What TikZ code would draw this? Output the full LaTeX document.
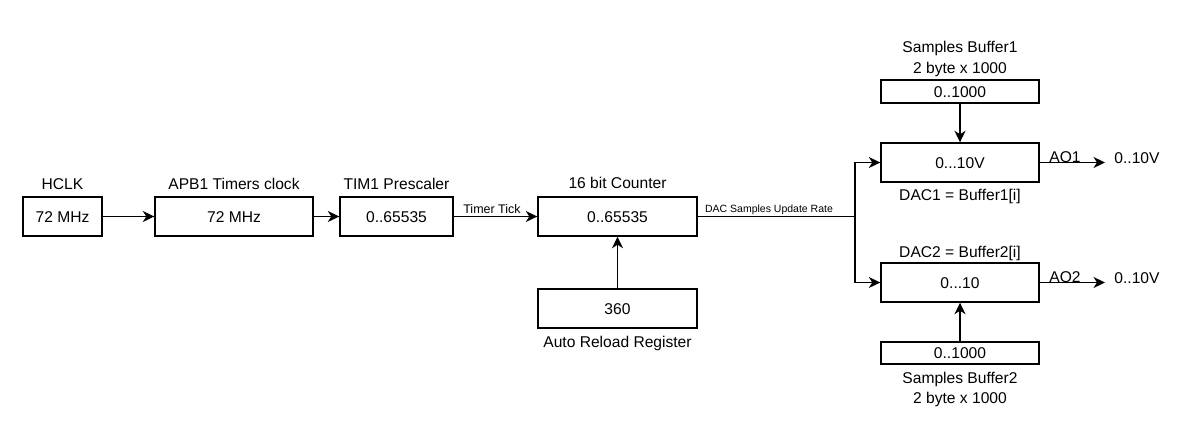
\documentclass[tikz,border=0pt]{standalone}
\usepackage{fontspec}
\setmainfont{Liberation Sans}
\usetikzlibrary{arrows.meta,calc}
\begin{document}
\begin{tikzpicture}[x=1pt,y=-1pt,
  blk/.style={draw=black, line width=1.4pt, minimum height=39pt, inner sep=0pt,
    text height=11.1pt, text depth=0pt, font=\fontsize{15.6}{18}\selectfont},
  lbl/.style={inner sep=0pt, text height=11.1pt, text depth=0pt, font=\fontsize{15.6}{18}\selectfont},
  smalllbl/.style={inner sep=0pt, text height=9pt, text depth=0pt, font=\fontsize{12.5}{15}\selectfont},
  tinylbl/.style={inner sep=0pt, text height=7.6pt, text depth=0pt, font=\fontsize{10.5}{13}\selectfont},
  wire/.style={draw=black, line width=1.4pt},
  conn/.style={wire, -{Stealth[length=11.5pt,width=11pt,inset=3.5pt]}}
]
\fill[white] (0,0) rectangle (1199,445);
\useasboundingbox (0,0) rectangle (1199,445);

% blocks
\node[blk, minimum width=79pt]  (hclk)   at (62.5,216.5) {72 MHz};
\node[blk, minimum width=158pt] (apb)    at (234,216.5) {72 MHz};
\node[blk, minimum width=113pt] (tim)    at (396.5,216.5) {0..65535};
\node[blk, minimum width=159pt] (cnt)    at (617.5,216.5) {0..65535};
\node[blk, minimum width=159pt] (reload) at (617.5,308.5) {360};
\node[blk, minimum width=158pt, minimum height=23pt] (buf1) at (960,91.5) {0..1000};
\node[blk, minimum width=158pt] (dac1)   at (960,162.5) {0...10V};
\node[blk, minimum width=158pt] (dac2)   at (960,282.5) {0...10};
\node[blk, minimum width=158pt, minimum height=22pt] (buf2) at (960,353) {0..1000};

% labels
\node[lbl] (lhclk) at (62.5,184) {HCLK};
\node[lbl] (lapb)  at (234,184) {APB1 Timers clock};
\node[lbl] (ltim)  at (396.5,184) {TIM1 Prescaler};
\node[lbl] (lcnt)  at (617.5,183) {16 bit Counter};
\node[lbl] (lrel)  at (617.5,342) {Auto Reload Register};
\node[lbl] (lb1a)  at (960,47) {Samples Buffer1};
\node[lbl] (lb1b)  at (960,68) {2 byte x 1000};
\node[lbl] (ld1)   at (960,195) {DAC1 = Buffer1[i]};
\node[lbl] (ld2)   at (960,252) {DAC2 = Buffer2[i]};
\node[lbl] (lb2a)  at (960,378) {Samples Buffer2};
\node[lbl] (lb2b)  at (960,398) {2 byte x 1000};
\node[lbl] (o1)    at (1137,158) {0..10V};
\node[lbl] (o2)    at (1137,278) {0..10V};
\node[lbl] (ao1)   at (1065,157) {AO1};
\node[lbl] (ao2)   at (1065,277) {AO2};
\node[smalllbl] (tt)  at (492,209) {Timer Tick};
\node[tinylbl]  (dsr) at (769,209) {DAC Samples Update Rate};

% connectors
\draw[conn] (hclk) -- (apb);
\draw[conn] (apb) -- (tim);
\draw[conn] (tim) -- (cnt);
\draw[conn] (reload) -- (cnt);
\coordinate (split) at (855,216.5);
\draw[wire] (cnt.east) -- (split);
\draw[conn] (split) |- (dac1.west);
\draw[conn] (split) |- (dac2.west);
\draw[conn] (buf1) -- (dac1);
\draw[conn] (buf2) -- (dac2);
\coordinate (e1) at (1105,162.5);
\coordinate (e2) at (1105,282.5);
\draw[conn] (dac1.east) -- (e1);
\draw[conn] (dac2.east) -- (e2);
\end{tikzpicture}
\end{document}
